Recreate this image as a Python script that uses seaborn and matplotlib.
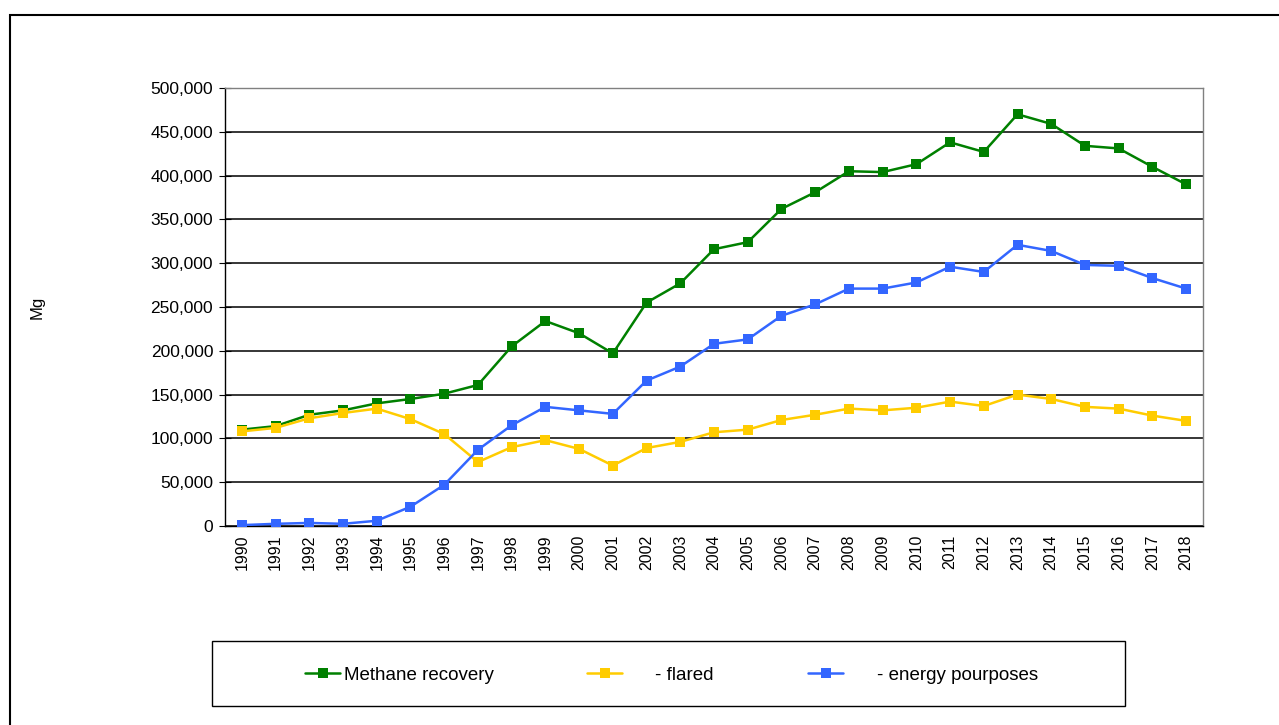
import matplotlib
matplotlib.use("Agg")
import matplotlib.pyplot as plt
import matplotlib.ticker as mticker
from matplotlib.lines import Line2D
from matplotlib.patches import Rectangle
import seaborn as sns
import numpy as np
import pandas as pd

# values (Mg)
years = list(range(1990, 2019))
methane_recovery = [110000, 114000, 127000, 132000, 140000, 145000, 151000, 161000, 205000, 234000,
                    220000, 197000, 255000, 277000, 316000, 324000, 362000, 381000, 405000, 404000,
                    413000, 438000, 427000, 470000, 459000, 434000, 431000, 410000, 390000]
flared = [108000, 112000, 123000, 129000, 134000, 122000, 105000, 73000, 90000, 98000,
          88000, 69000, 89000, 96000, 107000, 110000, 121000, 127000, 134000, 132000,
          135000, 142000, 137000, 150000, 145000, 136000, 134000, 126000, 120000]
energy = [1000, 2500, 3500, 2500, 6000, 22000, 47000, 87000, 115000, 136000,
          132000, 128000, 166000, 182000, 208000, 213000, 240000, 253000, 271000, 271000,
          278000, 296000, 290000, 321000, 314000, 298000, 297000, 283000, 271000]

series_names = ["Methane recovery", "- flared", "- energy pourposes"]
colors = ["#008000", "#FFCC00", "#3366FF"]

df = pd.DataFrame({
    "year": years * 3,
    "value": methane_recovery + flared + energy,
    "series": [series_names[0]] * len(years) + [series_names[1]] * len(years) + [series_names[2]] * len(years),
})

sns.set_theme(style="white")
plt.rcParams["font.family"] = ["Liberation Sans", "DejaVu Sans"]
plt.rcParams["text.color"] = "black"
plt.rcParams["xtick.color"] = "black"
plt.rcParams["ytick.color"] = "black"
plt.rcParams["axes.labelcolor"] = "black"

fig = plt.figure(figsize=(12.79, 7.25), dpi=100)
ax = fig.add_axes([225 / 1279, 1 - 526 / 725, 978 / 1279, 438 / 725])

sns.lineplot(data=df, x="year", y="value", hue="series", hue_order=series_names,
             palette=colors, marker="s", markersize=7, markeredgewidth=0,
             linewidth=1.8, legend=False, ax=ax, zorder=3)

ax.set_xlim(1989.5, 2018.5)
ax.set_ylim(0, 500000)
ax.set_yticks(np.arange(0, 500001, 50000))
ax.yaxis.set_major_formatter(mticker.FuncFormatter(lambda v, p: f"{int(v):,}"))
ax.set_xticks(years)
ax.set_xticklabels([str(y) for y in years], rotation=90)
ax.set_xticks(np.arange(1989.5, 2019, 1), minor=True)
ax.tick_params(axis="x", which="major", length=0, labelsize=11.5, pad=6)
ax.tick_params(axis="x", which="minor", direction="inout", length=10, width=0.8, color="black")
ax.tick_params(axis="y", which="major", direction="inout", length=9, width=0.8, color="black",
               labelsize=12.5, pad=4, left=True)
ax.grid(axis="y", color="black", linewidth=1.1)
ax.grid(axis="x", visible=False)
for side in ["left", "bottom"]:
    ax.spines[side].set_color("black")
    ax.spines[side].set_linewidth(1.0)
for side in ["top", "right"]:
    ax.spines[side].set_color("#808080")
    ax.spines[side].set_linewidth(1.0)
ax.set_xlabel("")
ax.set_ylabel("Mg", fontsize=12)
ax.yaxis.set_label_coords(-0.184, 0.5)

# outer chart border
fig.add_artist(Rectangle((10 / 1279, -0.05), 1.2, 1 - 15 / 725 + 0.05, transform=fig.transFigure,
                         fill=False, edgecolor="black", linewidth=1.5))

# legend box
fig.add_artist(Rectangle((212 / 1279, 1 - 706 / 725), 913 / 1279, 65 / 725, transform=fig.transFigure,
                         fill=False, edgecolor="black", linewidth=1.0))
legend_x = [305, 587, 808]
legend_pad = [0.2, 1.75, 1.8]
for lx, lab, c, pad in zip(legend_x, series_names, colors, legend_pad):
    h = Line2D([], [], color=c, marker="s", markersize=6.5, markeredgewidth=0, linewidth=1.8)
    fig.legend([h], [lab], loc="center left", bbox_to_anchor=(lx / 1279, 1 - 675 / 725),
               frameon=False, borderpad=0, borderaxespad=0, handlelength=1.87,
               handletextpad=pad, fontsize=13.5)

fig.savefig("out.png", dpi=100)
